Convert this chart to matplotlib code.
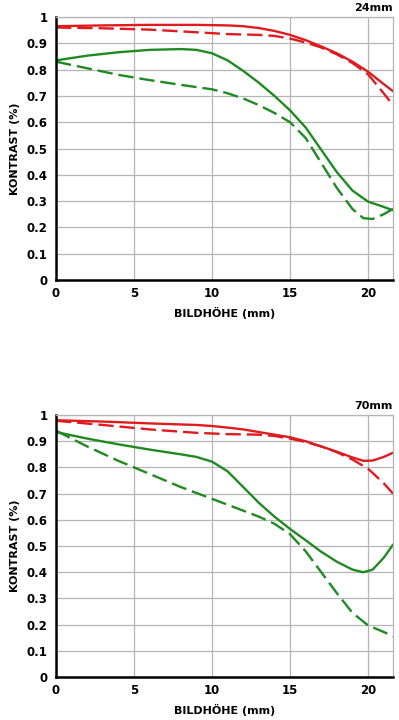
import matplotlib
matplotlib.use("Agg")
from matplotlib import pyplot as plt

RED = "#e01b1f"
GREEN = "#1f8a22"

# 24mm
x_24_red_solid = [0, 3, 6, 9, 11, 12, 13, 14, 15, 16, 17, 18, 19, 20, 21, 21.6]
y_24_red_solid = [0.965, 0.968, 0.97, 0.97, 0.968, 0.965, 0.958, 0.947, 0.932, 0.912, 0.888, 0.862, 0.83, 0.792, 0.745, 0.718]
x_24_red_dash = [0, 3, 6, 9, 11, 13, 14, 15, 16, 17, 18, 19, 20, 21, 21.6]
y_24_red_dash = [0.96, 0.957, 0.952, 0.942, 0.935, 0.932, 0.928, 0.918, 0.903, 0.884, 0.858, 0.825, 0.782, 0.71, 0.665]
x_24_green_solid = [0, 2, 4, 6, 8, 9, 10, 11, 12, 13, 14, 15, 16, 17, 18, 19, 20, 21, 21.6]
y_24_green_solid = [0.835, 0.853, 0.866, 0.875, 0.878, 0.875, 0.862, 0.835, 0.795, 0.75, 0.70, 0.645, 0.58, 0.495, 0.41, 0.34, 0.298, 0.278, 0.265]
x_24_green_dash = [0, 2, 4, 6, 8, 10, 11, 12, 13, 14, 15, 16, 17, 18, 19, 19.7, 20.3, 21, 21.6]
y_24_green_dash = [0.83, 0.805, 0.78, 0.76, 0.742, 0.725, 0.71, 0.69, 0.665, 0.635, 0.60, 0.54, 0.445, 0.35, 0.27, 0.235, 0.232, 0.25, 0.27]

# 70mm
x_70_red_solid = [0, 3, 6, 9, 10, 11, 12, 13, 14, 15, 16, 17, 18, 19, 19.7, 20.3, 21, 21.6]
y_70_red_solid = [0.98, 0.975, 0.968, 0.962, 0.958, 0.952, 0.945, 0.935, 0.925, 0.915, 0.9, 0.88, 0.86, 0.838, 0.825, 0.826, 0.84, 0.856]
x_70_red_dash = [0, 3, 6, 9, 11, 13, 14, 15, 16, 17, 18, 19, 20, 21, 21.6]
y_70_red_dash = [0.978, 0.962, 0.945, 0.932, 0.927, 0.925, 0.92, 0.91, 0.897, 0.88, 0.858, 0.83, 0.795, 0.74, 0.70]
x_70_green_solid = [0, 2, 4, 6, 8, 9, 10, 11, 12, 13, 14, 15, 16, 17, 18, 19, 19.7, 20.3, 21, 21.6]
y_70_green_solid = [0.935, 0.91, 0.888, 0.868, 0.85, 0.84, 0.822, 0.785, 0.725, 0.665, 0.612, 0.565, 0.522, 0.478, 0.44, 0.41, 0.4, 0.41, 0.455, 0.505]
x_70_green_dash = [0, 2, 4, 6, 8, 10, 12, 13, 14, 15, 16, 17, 18, 19, 20, 21, 21.6]
y_70_green_dash = [0.94, 0.88, 0.825, 0.775, 0.725, 0.68, 0.635, 0.612, 0.585, 0.545, 0.48, 0.40, 0.32, 0.245, 0.197, 0.172, 0.155]

x_ticks = [0, 5, 10, 15, 20]
y_ticks = [0, 0.1, 0.2, 0.3, 0.4, 0.5, 0.6, 0.7, 0.8, 0.9, 1]
y_tick_labels = ["0", "0.1", "0.2", "0.3", "0.4", "0.5", "0.6", "0.7", "0.8", "0.9", "1"]

panels = [
    ("24mm", [0.1404, 0.6111, 0.8446, 0.3653],
     (x_24_red_solid, y_24_red_solid), (x_24_red_dash, y_24_red_dash),
     (x_24_green_solid, y_24_green_solid), (x_24_green_dash, y_24_green_dash)),
    ("70mm", [0.1404, 0.0597, 0.8446, 0.3639],
     (x_70_red_solid, y_70_red_solid), (x_70_red_dash, y_70_red_dash),
     (x_70_green_solid, y_70_green_solid), (x_70_green_dash, y_70_green_dash)),
]

fig = plt.figure(figsize=(3.99, 7.2), dpi=100)

for title, rect, red_s, red_d, green_s, green_d in panels:
    ax = fig.add_axes(rect)
    ax.plot(*red_s, color=RED, lw=1.7, solid_capstyle="round")
    ax.plot(*red_d, color=RED, lw=1.7, dashes=(6.5, 2.5))
    ax.plot(*green_s, color=GREEN, lw=1.7, solid_capstyle="round")
    ax.plot(*green_d, color=GREEN, lw=1.7, dashes=(6.5, 2.5))

    ax.set_xlim(0, 21.6)
    ax.set_ylim(0, 1)
    ax.set_xticks(x_ticks)
    ax.set_yticks(y_ticks)
    ax.set_yticklabels(y_tick_labels)
    ax.tick_params(axis="y", length=0, labelsize=8.5, pad=6)
    ax.tick_params(axis="x", length=0, labelsize=8.5, pad=5)
    for lab in ax.get_xticklabels() + ax.get_yticklabels():
        lab.set_fontweight("bold")
    ax.grid(True, color="#b5b5b5", lw=0.9)
    ax.set_axisbelow(True)
    for side in ("top", "right"):
        ax.spines[side].set_color("#b5b5b5")
        ax.spines[side].set_linewidth(0.9)
    for side in ("left", "bottom"):
        ax.spines[side].set_color("black")
        ax.spines[side].set_linewidth(1.8)

    ax.set_xlabel("BILDHÖHE (mm)", fontsize=8, fontweight="bold", labelpad=5)
    ax.set_ylabel("KONTRAST (%)", fontsize=8, fontweight="bold", labelpad=5)
    ax.set_title(title, loc="right", fontsize=8, fontweight="bold", pad=4)

fig.savefig("out.png", dpi=100)
